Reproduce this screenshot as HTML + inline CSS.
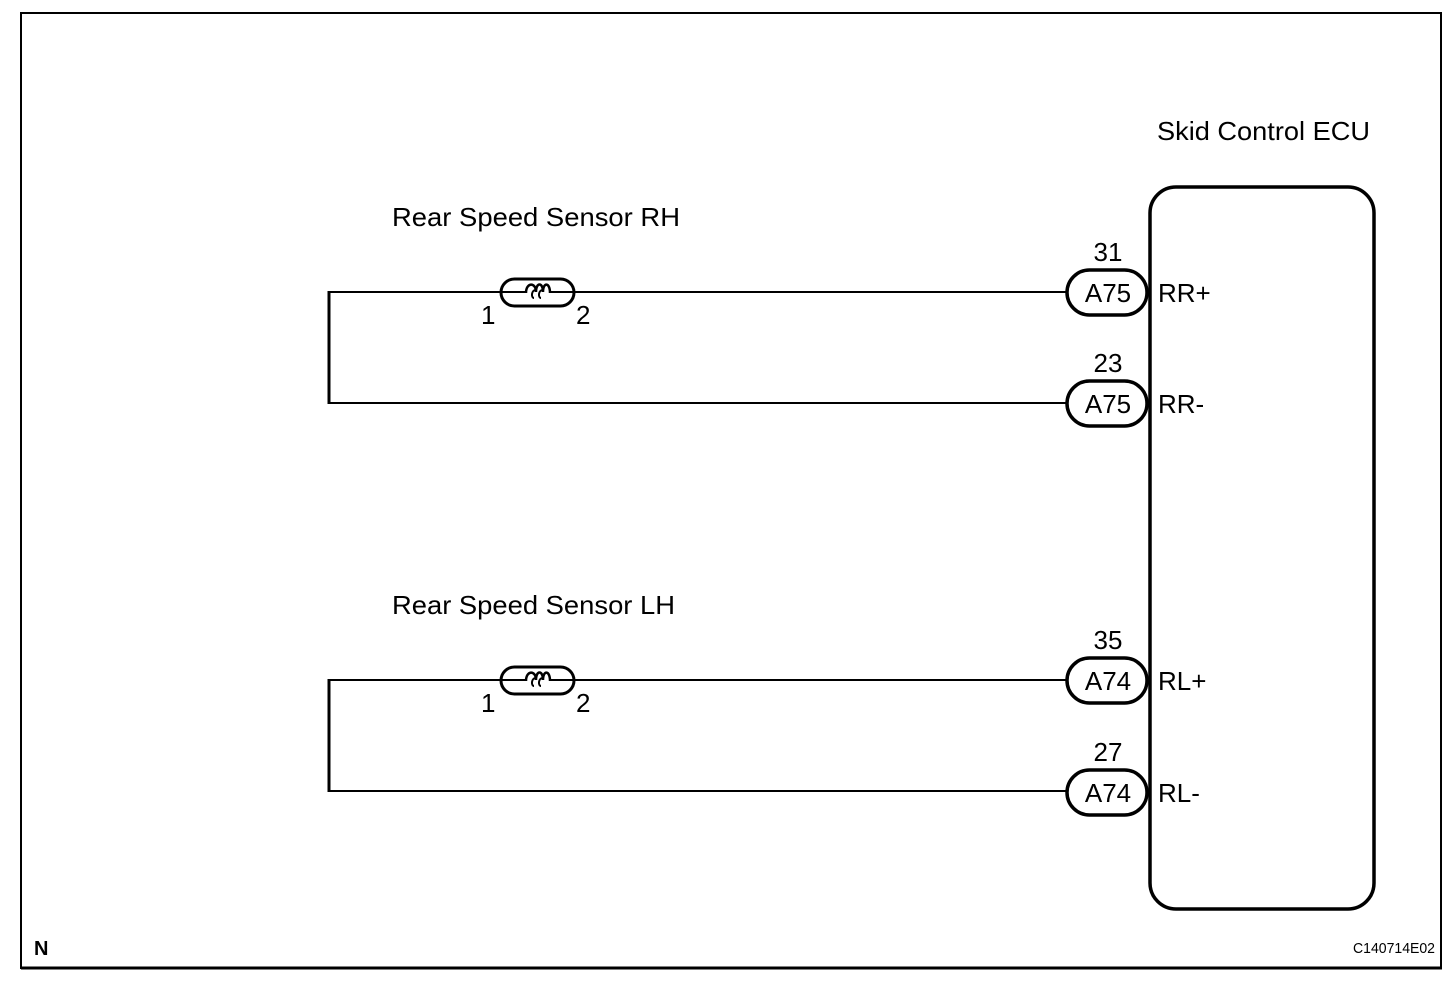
<!DOCTYPE html>
<html><head><meta charset="utf-8"><style>
html,body{margin:0;padding:0;background:#fff;}
svg{display:block;}
text{font-family:"Liberation Sans",Arial,sans-serif;fill:#000;}
</style></head><body>
<svg width="1456" height="1004" viewBox="0 0 1456 1004" xmlns="http://www.w3.org/2000/svg">
<rect x="21" y="13" width="1420" height="955" fill="none" stroke="#000" stroke-width="2"/>
<line x1="21" y1="968" x2="1442" y2="968" stroke="#000" stroke-width="3"/>
<rect x="1150" y="187" width="224" height="722" rx="26" fill="none" stroke="#000" stroke-width="3.5"/>
<text x="1157" y="140" font-size="26" textLength="213" lengthAdjust="spacingAndGlyphs">Skid Control ECU</text>
<text x="392" y="226" font-size="26" textLength="288" lengthAdjust="spacingAndGlyphs">Rear Speed Sensor RH</text>
<text x="392" y="614" font-size="26" textLength="283" lengthAdjust="spacingAndGlyphs">Rear Speed Sensor LH</text>
<g fill="none" stroke="#000">
<path d="M1067 292 H575 M500 292 H329 V403 H1067" stroke-width="2"/>
<path d="M1067 680 H575 M500 680 H329 V791 H1067" stroke-width="2"/>
<line x1="329" y1="291" x2="329" y2="404" stroke-width="3"/>
<line x1="329" y1="679" x2="329" y2="792" stroke-width="3"/>
</g>
<g id="coil" fill="none" stroke="#000">
<rect x="501" y="279" width="73" height="27" rx="13.5" stroke-width="3"/>
<path d="M501 292 H526 M550 292 H574" stroke-width="2"/>
<path d="M526 293 C526 282 536 282 536 292 C536 282 543 282 543 292 C543 282 550 282 550 293" stroke-width="2.5"/>
<path d="M534 298 C531 298 531 290 536 290 M541 298 C538 298 538 290 543 290" stroke-width="2"/>
</g>
<use href="#coil" y="388"/>
<g font-size="26">
<text x="481" y="324">1</text><text x="576" y="324">2</text>
<text x="481" y="712">1</text><text x="576" y="712">2</text>
</g>
<g fill="none" stroke="#000" stroke-width="3.5">
<rect x="1067" y="270" width="80" height="45" rx="22.5"/>
<rect x="1067" y="381" width="80" height="45" rx="22.5"/>
<rect x="1067" y="658" width="80" height="45" rx="22.5"/>
<rect x="1067" y="770" width="80" height="45" rx="22.5"/>
</g>
<g font-size="26" text-anchor="middle">
<text x="1108" y="261">31</text><text x="1108" y="302">A75</text>
<text x="1108" y="372">23</text><text x="1108" y="413">A75</text>
<text x="1108" y="649">35</text><text x="1108" y="690">A74</text>
<text x="1108" y="761">27</text><text x="1108" y="802">A74</text>
</g>
<g font-size="26">
<text x="1158" y="302">RR+</text>
<text x="1158" y="413">RR-</text>
<text x="1158" y="690">RL+</text>
<text x="1158" y="802">RL-</text>
</g>
<text x="34" y="955" font-size="20" font-weight="bold">N</text>
<text x="1435" y="953" font-size="15" text-anchor="end" textLength="82" lengthAdjust="spacingAndGlyphs">C140714E02</text>
</svg>
</body></html>
